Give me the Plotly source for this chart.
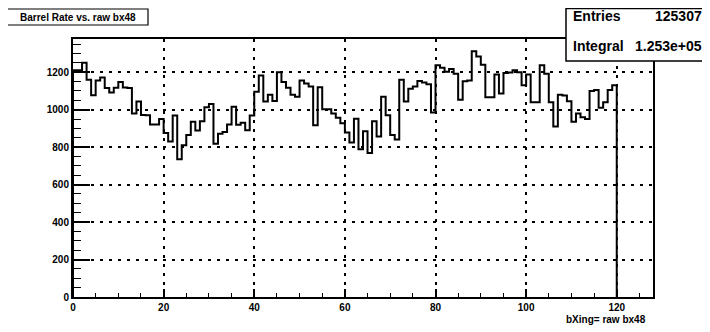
import plotly.graph_objects as go

# ---- data ----
bin_low = list(range(120))  # lower edges of bins 0..119 (unit width)
values = [
    1210, 1210, 1250, 1160, 1077, 1155, 1172, 1115, 1092, 1117,
    1147, 1118, 1115, 979, 1043, 972, 970, 921, 921, 950,
    875, 830, 969, 735, 810, 864, 935, 889, 938, 1013,
    1030, 818, 871, 881, 921, 1015, 920, 930, 890, 969,
    1095, 1182, 1044, 1080, 1046, 1200, 1148, 1117, 1080, 1069,
    1155, 1140, 1124, 916, 1119, 1002, 1002, 980, 957, 928,
    878, 825, 951, 788, 884, 768, 938, 857, 1069, 970,
    865, 841, 1160, 1044, 1112, 1124, 1153, 1145, 1136, 985,
    1237, 1223, 1202, 1217, 1192, 1053, 1152, 1156, 1311, 1283,
    1240, 1066, 1066, 1188, 1086, 1195, 1198, 1210, 1200, 1130,
    1188, 1040, 1040, 1237, 1192, 1040, 910, 1080, 1075, 1045,
    935, 980, 960, 950, 1100, 1105, 1010, 1040, 1105, 1130,
]
title_text = "Barrel Rate vs. raw bx48"
x_title = "bXing= raw bx48"
entries_label, entries_value = "Entries", "125307"
integral_label, integral_value = "Integral", "1.253e+05"

# ---- layout geometry (page pixels; page body has an 8px margin) ----
OFF = 8
PAGE_W, PAGE_H = 710, 332
W, H = PAGE_W - OFF, PAGE_H - OFF
FL, FR, FT, FB = 73, 653, 39, 297  # frame edges in page pixels
ML, MT = FL - OFF, FT - OFF
MR, MB = PAGE_W - FR, PAGE_H - FB
PW, PH = W - ML - MR, H - MT - MB


def px(xp):
    return (xp - FL) / PW


def py(yp):
    return (FB - yp) / PH


FONT = "Liberation Sans"
bold = dict(family=FONT, color="black", weight="bold")

# step outline like a ROOT histogram
hx = [bin_low[0]] + bin_low + [bin_low[-1] + 1]
hy = [0] + values + [0]

fig = go.Figure()
fig.add_trace(go.Scatter(
    x=hx, y=hy, mode="lines", line=dict(color="black", width=2, shape="hv"),
    hoverinfo="skip", showlegend=False,
))

axis_common = dict(
    showline=True, linecolor="black", linewidth=2, mirror=True,
    ticks="inside", tickcolor="black", tickwidth=1.5,
    showgrid=True, gridcolor="black", gridwidth=1.5, griddash="3px,6px",
    zeroline=False, tickfont=dict(size=10, **bold),
)

fig.update_xaxes(
    range=[0, 128], tick0=0, dtick=20, ticklen=8,
    minor=dict(dtick=5, ticklen=4, ticks="inside", tickcolor="black", tickwidth=1.2, showgrid=False),
    **axis_common,
)
fig.update_yaxes(
    range=[0, 1377], tick0=0, dtick=200, ticklen=17,
    minor=dict(dtick=50, ticklen=8, ticks="inside", tickcolor="black", tickwidth=1.2, showgrid=False),
    **axis_common,
)

shapes = [
    # title box
    dict(type="rect", xref="paper", yref="paper", x0=px(7), x1=px(148), y0=py(25), y1=py(9),
         line=dict(color="black", width=1.2), fillcolor="white", layer="above"),
    # stats box
    dict(type="rect", xref="paper", yref="paper", x0=px(566), x1=px(709), y0=py(61), y1=py(OFF + 0.5),
         line=dict(color="black", width=1.5), fillcolor="white", layer="above"),
]

annotations = [
    dict(text=title_text, xref="paper", yref="paper", x=px(77.5), y=py(17), xanchor="center", yanchor="middle",
         showarrow=False, font=dict(size=10, **bold)),
    dict(text=entries_label, xref="paper", yref="paper", x=px(571), y=py(16), xanchor="left", yanchor="middle",
         showarrow=False, font=dict(size=14, **bold)),
    dict(text=entries_value, xref="paper", yref="paper", x=px(704), y=py(16), xanchor="right", yanchor="middle",
         showarrow=False, font=dict(size=14, **bold)),
    dict(text=integral_label, xref="paper", yref="paper", x=px(571), y=py(46), xanchor="left", yanchor="middle",
         showarrow=False, font=dict(size=14, **bold)),
    dict(text=integral_value, xref="paper", yref="paper", x=px(704), y=py(46), xanchor="right", yanchor="middle",
         showarrow=False, font=dict(size=14, **bold)),
    dict(text=x_title, xref="paper", yref="paper", x=px(648), y=py(319), xanchor="right", yanchor="middle",
         showarrow=False, font=dict(size=10, **bold)),
]

fig.update_layout(
    width=W, height=H, autosize=False,
    margin=dict(l=ML, r=MR, t=MT, b=MB, pad=0),
    paper_bgcolor="white", plot_bgcolor="white",
    shapes=shapes, annotations=annotations, showlegend=False,
)

fig.write_html("out.html")
